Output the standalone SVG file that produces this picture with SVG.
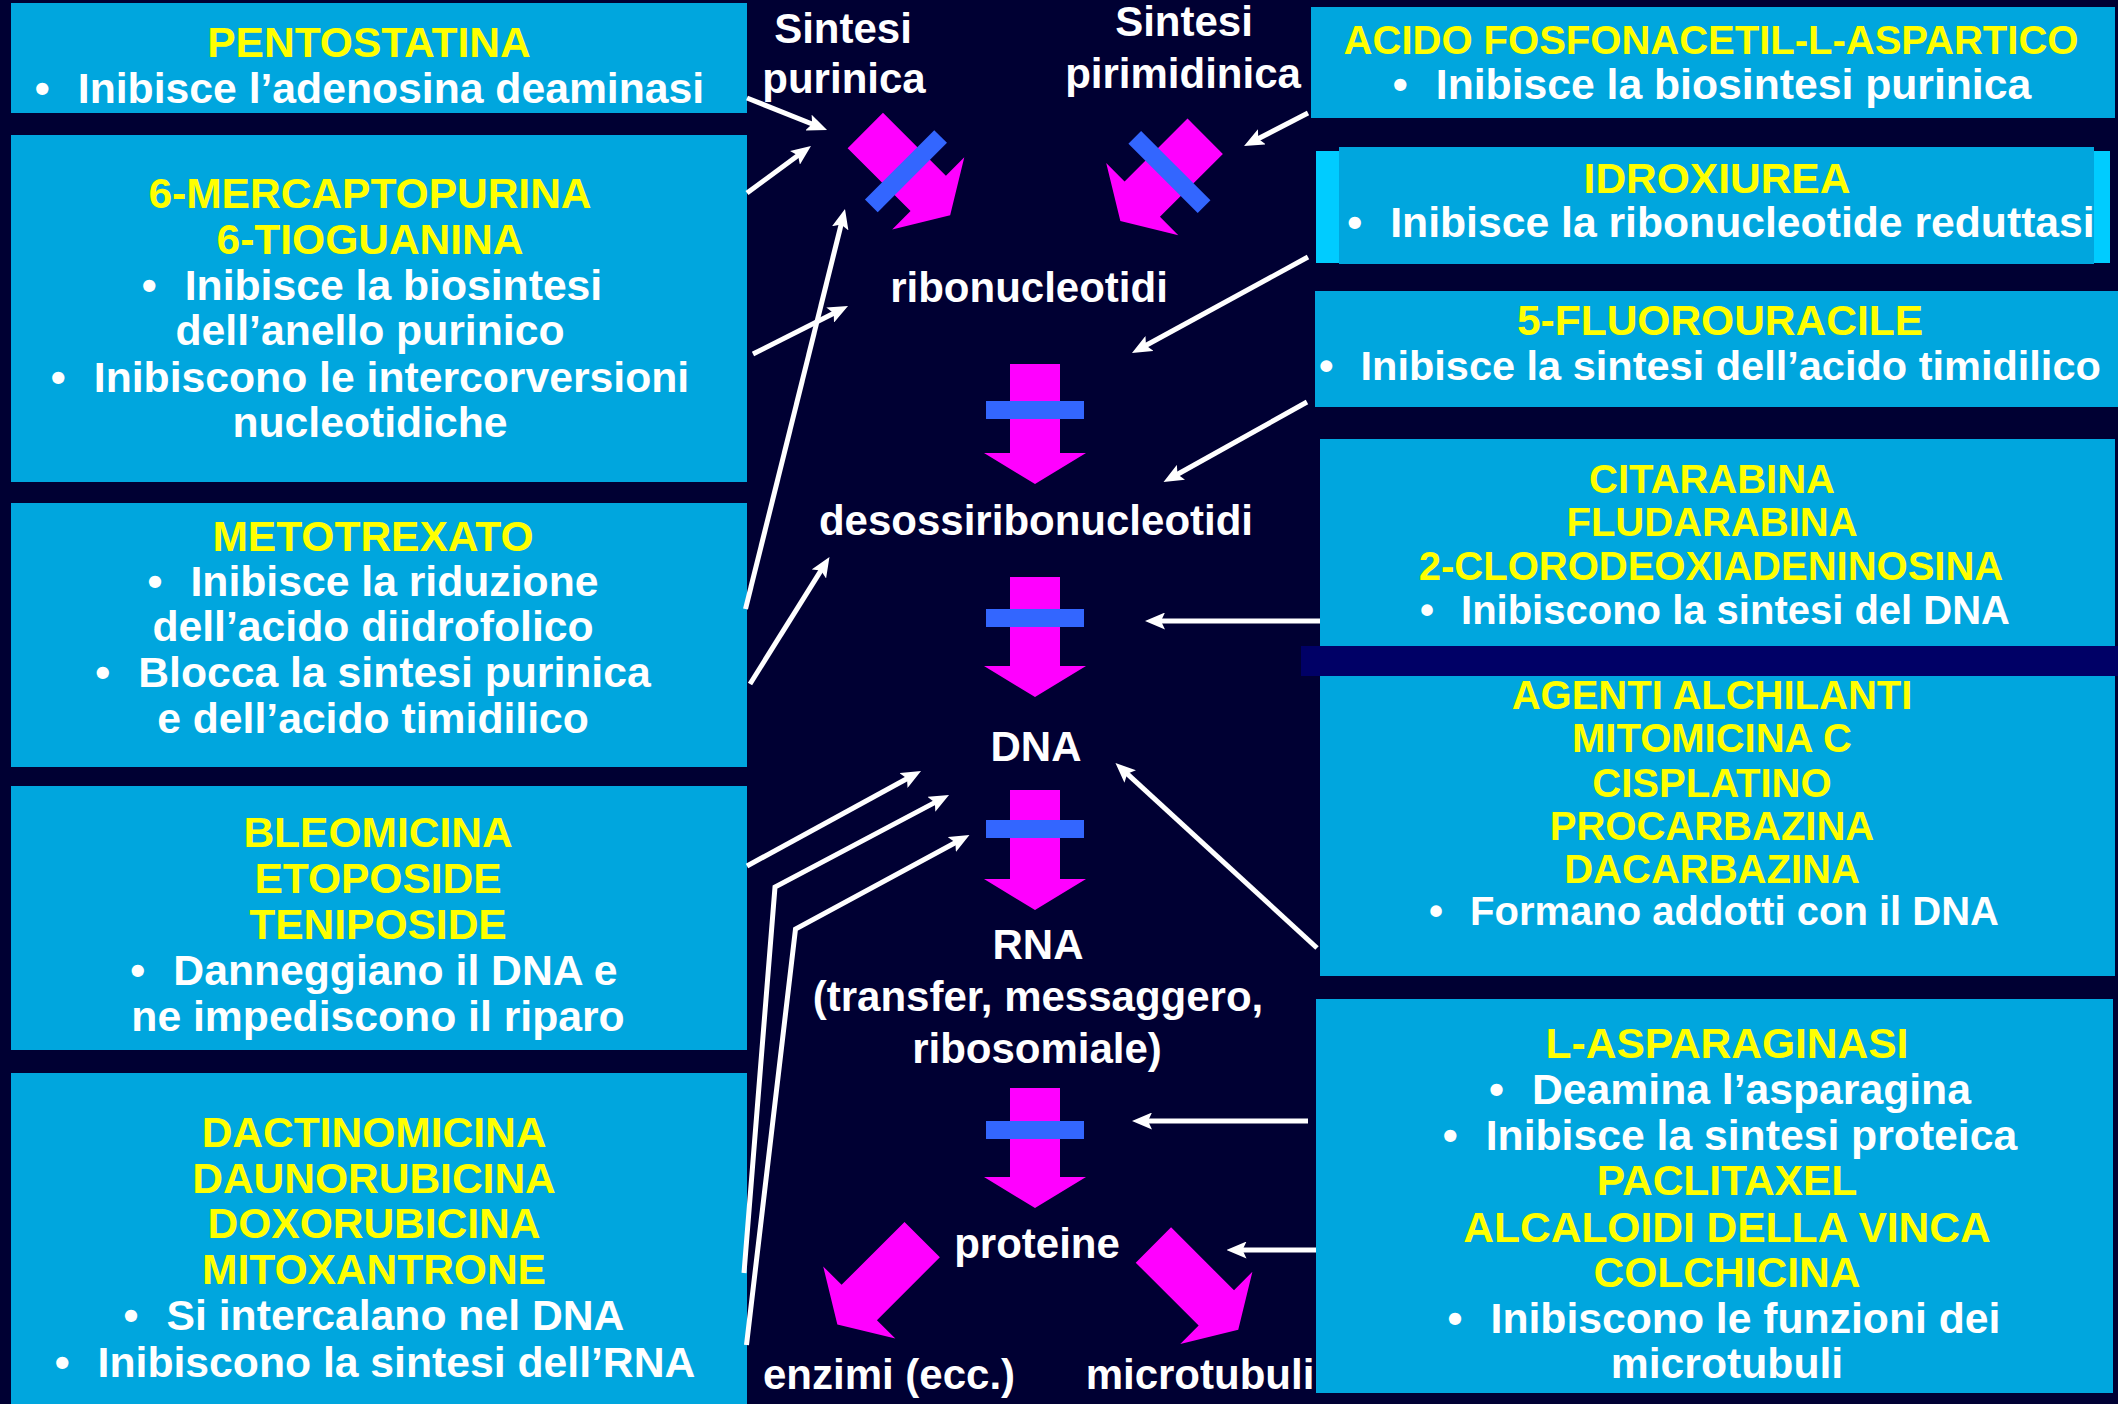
<svg xmlns="http://www.w3.org/2000/svg" xmlns:xlink="http://www.w3.org/1999/xlink" width="2118" height="1404" viewBox="0 0 2118 1404">
<style>
  .box{fill:#00A6DE}
  .t{font-family:"Liberation Sans",Arial,sans-serif;font-weight:bold;text-anchor:middle}
  .y{fill:#FFFF00;font-size:42.5px}
  .w{fill:#FFFFFF;font-size:42.7px}
  .sm{font-size:40px}
  .lbl{fill:#FFFFFF;font-size:42px}
  .mag{fill:#FF00FF}
  .bar{fill:#3366FF}
  .conn{stroke:#FFFFFF;stroke-width:5;fill:none;marker-end:url(#head)}
</style>
<defs>
  <marker id="head" markerUnits="userSpaceOnUse" viewBox="0 0 20 17" markerWidth="20" markerHeight="17" refX="8" refY="8.5" orient="auto">
    <path d="M0,0 L20,8.5 L0,17 L4,8.5 Z" fill="#FFFFFF"/>
  </marker>
  <!-- block arrow pointing down, shaft top centre at origin -->
  <path id="blk" d="M-25,0 H25 V89 H51 L0,120 L-51,89 H-25 Z"/>
</defs>

<rect width="2118" height="1404" fill="#000033"/>

<!-- left column drug boxes -->
<g id="pentostatina">
  <rect class="box" x="11" y="3" width="736" height="110"/>
  <text class="t y" x="369" y="57">PENTOSTATINA</text>
  <text class="t w" x="369.5" y="103">•<tspan dx="28">Inibisce l’adenosina deaminasi</tspan></text>
</g>
<g id="mercaptopurina">
  <rect class="box" x="11" y="135" width="736" height="347"/>
  <text class="t y" x="370" y="208">6-MERCAPTOPURINA</text>
  <text class="t y" x="370" y="254">6-TIOGUANINA</text>
  <text class="t w" x="372" y="300">•<tspan dx="28">Inibisce la biosintesi</tspan></text>
  <text class="t w" x="370" y="345">dell’anello purinico</text>
  <text class="t w" x="370" y="392">•<tspan dx="28">Inibiscono le intercorversioni</tspan></text>
  <text class="t w" x="370" y="437">nucleotidiche</text>
</g>
<g id="metotrexato">
  <rect class="box" x="11" y="503" width="736" height="264"/>
  <text class="t y" x="373" y="551">METOTREXATO</text>
  <text class="t w" x="373" y="596">•<tspan dx="28">Inibisce la riduzione</tspan></text>
  <text class="t w" x="373" y="641">dell’acido diidrofolico</text>
  <text class="t w" x="373" y="687">•<tspan dx="28">Blocca la sintesi purinica</tspan></text>
  <text class="t w" x="373" y="733">e dell’acido timidilico</text>
</g>
<g id="bleomicina">
  <rect class="box" x="11" y="786" width="736" height="264"/>
  <text class="t y" x="378" y="847">BLEOMICINA</text>
  <text class="t y" x="378" y="893">ETOPOSIDE</text>
  <text class="t y" x="378" y="939">TENIPOSIDE</text>
  <text class="t w" x="374" y="985">•<tspan dx="28">Danneggiano il DNA e</tspan></text>
  <text class="t w" x="378" y="1031">ne impediscono il riparo</text>
</g>
<g id="dactinomicina">
  <rect class="box" x="11" y="1073" width="736" height="340"/>
  <text class="t y" x="374" y="1147">DACTINOMICINA</text>
  <text class="t y" x="374" y="1193">DAUNORUBICINA</text>
  <text class="t y" x="374" y="1238">DOXORUBICINA</text>
  <text class="t y" x="374" y="1284">MITOXANTRONE</text>
  <text class="t w" x="374" y="1330">•<tspan dx="28">Si intercalano nel DNA</tspan></text>
  <text class="t w" x="375" y="1377">•<tspan dx="28">Inibiscono la sintesi dell’RNA</tspan></text>
</g>

<!-- central pathway labels -->
<g id="sintesi-purinica">
  <text class="t lbl" x="843" y="43">Sintesi</text>
  <text class="t lbl" x="844" y="93">purinica</text>
</g>
<g id="sintesi-pirimidinica">
  <text class="t lbl" x="1184" y="36">Sintesi</text>
  <text class="t lbl" x="1183" y="88">pirimidinica</text>
</g>
<g id="ribonucleotidi"><text class="t lbl" x="1029" y="302">ribonucleotidi</text></g>
<g id="desossiribonucleotidi"><text class="t lbl" x="1036" y="535">desossiribonucleotidi</text></g>
<g id="dna"><text class="t lbl" x="1036" y="761">DNA</text></g>
<g id="rna">
  <text class="t lbl" x="1038" y="959">RNA</text>
  <text class="t lbl" x="1038" y="1011">(transfer, messaggero,</text>
  <text class="t lbl" x="1037" y="1063">ribosomiale)</text>
</g>
<g id="proteine"><text class="t lbl" x="1037" y="1258">proteine</text></g>
<g id="enzimi"><text class="t lbl" x="889" y="1389">enzimi (ecc.)</text></g>
<g id="microtubuli"><text class="t lbl" x="1200" y="1389">microtubuli</text></g>

<!-- pathway block arrows with blocking bars -->
<g id="step-purinica">
  <g transform="translate(865.3,130.5) rotate(-45)">
    <use xlink:href="#blk" class="mag"/>
    <rect class="bar" x="-49" y="48.5" width="98" height="18"/>
  </g>
</g>
<g id="step-pirimidinica">
  <g transform="translate(1205.2,136.2) rotate(45)">
    <use xlink:href="#blk" class="mag"/>
    <rect class="bar" x="-49" y="41.6" width="98" height="18"/>
  </g>
</g>
<g id="step-ribo-desossi">
  <use xlink:href="#blk" class="mag" transform="translate(1035,364)"/>
  <rect class="bar" x="986" y="401" width="98" height="18"/>
</g>
<g id="step-desossi-dna">
  <use xlink:href="#blk" class="mag" transform="translate(1035,577)"/>
  <rect class="bar" x="986" y="609" width="98" height="18"/>
</g>
<g id="step-dna-rna">
  <use xlink:href="#blk" class="mag" transform="translate(1035,790)"/>
  <rect class="bar" x="986" y="820" width="98" height="18"/>
</g>
<g id="step-rna-proteine">
  <use xlink:href="#blk" class="mag" transform="translate(1035,1088)"/>
  <rect class="bar" x="986" y="1121" width="98" height="18"/>
</g>
<g id="step-enzimi">
  <use xlink:href="#blk" class="mag" transform="translate(922.2,1239.6) rotate(45)"/>
</g>
<g id="step-microtubuli">
  <use xlink:href="#blk" class="mag" transform="translate(1153.4,1245) rotate(-45)"/>
</g>

<!-- right column drug boxes -->
<g id="acido-fosfonacetil">
  <rect class="box" x="1311" y="7" width="804" height="111"/>
  <text class="t y sm" x="1711" y="54">ACIDO FOSFONACETIL-L-ASPARTICO</text>
  <text class="t w" x="1712" y="99">•<tspan dx="28">Inibisce la biosintesi purinica</tspan></text>
</g>
<g id="idroxiurea">
  <rect x="1316" y="151" width="794" height="112" fill="#00CCFF"/>
  <rect class="box" x="1339" y="147" width="755" height="117"/>
  <text class="t y" x="1717" y="193">IDROXIUREA</text>
  <text class="t w" x="1721" y="237">•<tspan dx="28">Inibisce la ribonucleotide reduttasi</tspan></text>
</g>
<g id="fluorouracile">
  <rect class="box" x="1315" y="291" width="803" height="116"/>
  <text class="t y" x="1720" y="335">5-FLUOROURACILE</text>
  <text class="t w" x="1319" y="380" style="text-anchor:start;font-size:41.5px">•<tspan dx="27">Inibisce la sintesi dell’acido timidilico</tspan></text>
</g>
<g id="citarabina">
  <rect class="box" x="1320" y="439" width="795" height="207"/>
  <text class="t y sm" x="1712" y="493">CITARABINA</text>
  <text class="t y sm" x="1712" y="536">FLUDARABINA</text>
  <text class="t y sm" x="1711" y="580">2-CLORODEOXIADENINOSINA</text>
  <text class="t w sm" x="1715" y="624">•<tspan dx="27">Inibiscono la sintesi del DNA</tspan></text>
</g>
<rect x="1301" y="646" width="817" height="30" fill="#000066"/>
<g id="agenti-alchilanti">
  <rect class="box" x="1320" y="676" width="795" height="300"/>
  <text class="t y sm" x="1712" y="709">AGENTI ALCHILANTI</text>
  <text class="t y sm" x="1712" y="752">MITOMICINA C</text>
  <text class="t y sm" x="1712" y="797">CISPLATINO</text>
  <text class="t y sm" x="1712" y="840">PROCARBAZINA</text>
  <text class="t y sm" x="1712" y="883">DACARBAZINA</text>
  <text class="t w sm" x="1714" y="925">•<tspan dx="27">Formano addotti con il DNA</tspan></text>
</g>
<g id="asparaginasi">
  <rect class="box" x="1316" y="999" width="797" height="394"/>
  <text class="t y" x="1727" y="1058">L-ASPARAGINASI</text>
  <text class="t w" x="1730" y="1104">•<tspan dx="28">Deamina l’asparagina</tspan></text>
  <text class="t w" x="1730" y="1150">•<tspan dx="28">Inibisce la sintesi proteica</tspan></text>
  <text class="t y" x="1727" y="1195">PACLITAXEL</text>
  <text class="t y" x="1727" y="1242">ALCALOIDI DELLA VINCA</text>
  <text class="t y" x="1727" y="1287">COLCHICINA</text>
  <text class="t w" x="1724" y="1333">•<tspan dx="28">Inibiscono le funzioni dei</tspan></text>
  <text class="t w" x="1727" y="1378">microtubuli</text>
</g>

<!-- inhibition connectors -->
<g id="connectors">
  <path class="conn" d="M747,98 L815.9,125.5"/>
  <path class="conn" d="M747,193 L801.3,153.1"/>
  <path class="conn" d="M753,354 L837.3,311.4"/>
  <path class="conn" d="M745.5,609 L842.1,220.6"/>
  <path class="conn" d="M750,684 L823.1,567.2"/>
  <path class="conn" d="M747,866 L910.5,776.7"/>
  <path class="conn" d="M744,1273 L775,887 L938.4,800.6"/>
  <path class="conn" d="M746.5,1345 L795.5,929 L958.9,840.7"/>
  <path class="conn" d="M1308,113 L1254.7,140.5"/>
  <path class="conn" d="M1308,257 L1142.5,347.3"/>
  <path class="conn" d="M1307,402 L1174,476.2"/>
  <path class="conn" d="M1320,621 L1157,621"/>
  <path class="conn" d="M1317,948 L1124.3,771.1"/>
  <path class="conn" d="M1308,1121 L1144,1121"/>
  <path class="conn" d="M1316,1250 L1238.5,1250"/>
</g>
</svg>
